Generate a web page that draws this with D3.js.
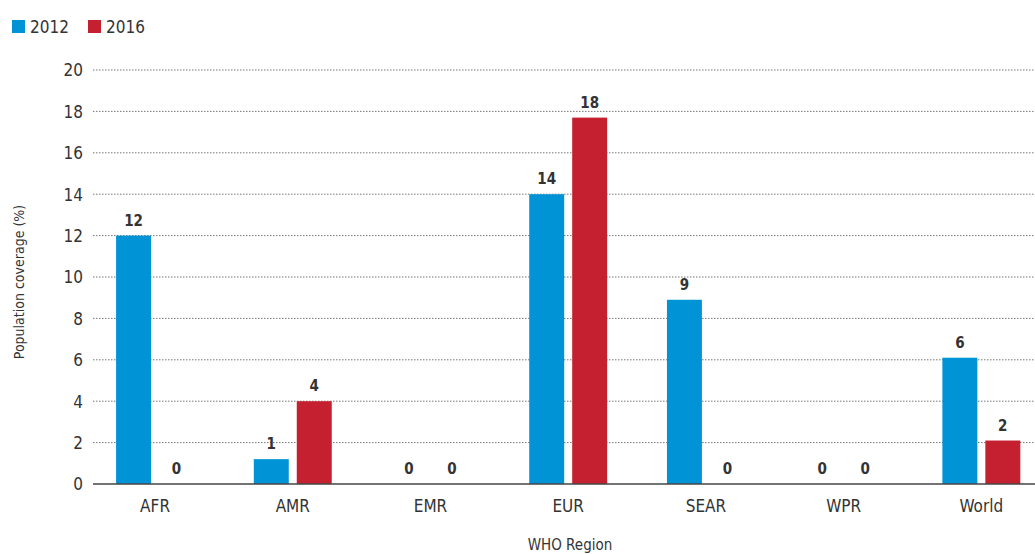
<!DOCTYPE html>
<html><head><meta charset="utf-8">
<script src="https://cdn.jsdelivr.net/npm/d3@7"></script>
<style>
body{margin:0;background:#fff;}
text{font-family:"Liberation Sans Narrow","DejaVu Sans Condensed","Roboto Condensed",sans-serif;font-stretch:condensed;fill:#333;}
</style></head>
<body><svg id="c" width="1035" height="554"></svg>
<script>
const categories = ["AFR","AMR","EMR","EUR","SEAR","WPR","World"];
const series = ["2012","2016"];
const values2012 = [12, 1.2, 0, 14, 8.9, 0, 6.1];
const values2016 = [0, 4, 0, 17.7, 0, 0, 2.1];
const labels2012 = ["12","1","0","14","9","0","6"];
const labels2016 = ["0","4","0","18","0","0","2"];
const yTicks = [0,2,4,6,8,10,12,14,16,18,20];
const colors = ["#0093d6","#c4202f"];

const svg = d3.select("#c");
const y = d3.scaleLinear().domain([0,20]).range([484,70]);
const x0 = d3.scaleBand().domain(categories).range([86.2,1050.2]).paddingInner(0.434).paddingOuter(0.217);
const x1 = d3.scaleBand().domain(series).range([0,x0.bandwidth()]).paddingInner(0.186);

// gridlines
svg.append("g").selectAll("line").data(yTicks.filter(d=>d>0)).join("line")
  .attr("x1",93).attr("x2",1035).attr("y1",d=>y(d)).attr("y2",d=>y(d))
  .attr("stroke","#777").attr("stroke-width",1).attr("stroke-dasharray","1.5,1.5");

// y axis labels
const yAxis = d3.axisLeft(y).tickValues(yTicks).tickSize(0).tickPadding(0);
const gy = svg.append("g").attr("transform","translate(83,0)").call(yAxis);
gy.select(".domain").remove();
gy.selectAll("text").style("font-size","17px").attr("fill","#333").attr("dy","0.35em");

// bars
const data = categories.map((c,i)=>({cat:c, vals:[
  {s:"2012", v:values2012[i], l:labels2012[i]},
  {s:"2016", v:values2016[i], l:labels2016[i]}]}));
const groups = svg.append("g").selectAll("g").data(data).join("g")
  .attr("transform",d=>`translate(${x0(d.cat)},0)`);
groups.selectAll("rect").data(d=>d.vals).join("rect")
  .attr("x",d=>x1(d.s)).attr("width",x1.bandwidth())
  .attr("y",d=>y(d.v)).attr("height",d=>y(0)-y(d.v))
  .attr("fill",(d,i)=>colors[i]);
groups.selectAll("text").data(d=>d.vals).join("text")
  .attr("x",d=>x1(d.s)+x1.bandwidth()/2).attr("y",d=>y(d.v)-10)
  .attr("text-anchor","middle").style("font-size","15px").style("font-weight","bold")
  .text(d=>d.l);

// x axis line
svg.append("line").attr("x1",93).attr("x2",1035).attr("y1",y(0)).attr("y2",y(0))
  .attr("stroke","#444").attr("stroke-width",1.5);

// x axis labels
const xAxis = d3.axisBottom(x0).tickSize(0).tickPadding(0);
const gx = svg.append("g").attr("transform",`translate(0,${y(0)})`).call(xAxis);
gx.select(".domain").remove();
gx.selectAll("text").style("font-size","17px").attr("fill","#333").attr("dy","0").attr("y",28);

// axis titles
svg.append("text").attr("x",570).attr("y",550).attr("text-anchor","middle").style("font-size","15px").text("WHO Region");
svg.append("text").attr("transform","translate(24,282) rotate(-90)").attr("text-anchor","middle").style("font-size","14px").text("Population coverage (%)");

// legend
const lg = svg.append("g").selectAll("g").data(series).join("g")
  .attr("transform",(d,i)=>`translate(${12+i*76},20)`);
lg.append("rect").attr("width",13).attr("height",13).attr("fill",(d,i)=>colors[i]);
lg.append("text").attr("x",18).attr("y",13).style("font-size","17px").text(d=>d);
</script></body></html>
